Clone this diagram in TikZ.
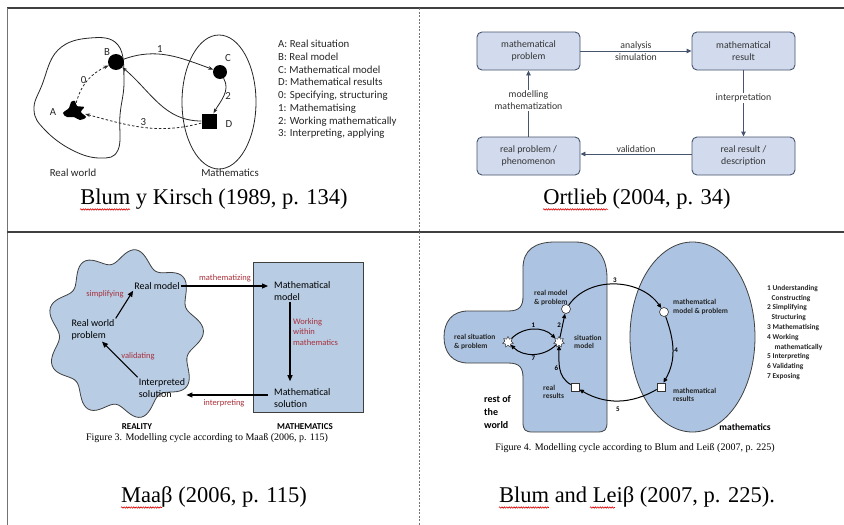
\documentclass[tikz,border=0pt]{standalone}
\usepackage{fontspec}
\setmainfont{Liberation Serif}
\setsansfont{Carlito}
\usetikzlibrary{arrows.meta,decorations.pathmorphing,shapes.geometric}
\definecolor{qfill}{RGB}{184,204,228}
\definecolor{lfill}{RGB}{172,196,226}
\definecolor{ofill}{RGB}{210,219,238}
\definecolor{obord}{RGB}{70,84,110}
\definecolor{mred}{RGB}{168,48,58}
\tikzset{
  bigcap/.style={font=\rmfamily\fontsize{22.5}{26}\selectfont, inner sep=0pt},
  figcap/.style={font=\rmfamily\fontsize{10}{12}\selectfont, inner sep=0pt},
  squig/.style={draw=red!85!black, line width=0.6pt, decorate, decoration={snake, amplitude=0.7pt, segment length=2.4pt}},
  kt/.style={font=\sffamily\fontsize{10.8}{12.7}\selectfont, text=black!85, inner sep=1pt},
  karr/.style={-{Stealth[length=5pt,width=3.6pt]}, line width=0.8pt, black!85},
  kdash/.style={karr, dash pattern=on 2.5pt off 2pt},
  obox/.style={draw=obord, fill=ofill, rounded corners=5pt, line width=0.9pt, minimum width=103pt, minimum height=38pt, align=center, font=\sffamily\fontsize{9.8}{11.8}\selectfont, text=black!80},
  oarr/.style={-{Triangle[length=5pt,width=4.5pt]}, draw=obord, line width=0.9pt},
  ot/.style={font=\sffamily\fontsize{9.8}{11.8}\selectfont, text=black!80, inner sep=1pt, align=center},
  mt/.style={font=\sffamily\fontsize{10}{12.2}\selectfont, align=left, inner sep=1pt},
  mlab/.style={font=\sffamily\fontsize{8.5}{10.5}\selectfont, text=mred, align=left, inner sep=1pt},
  marr/.style={-{Triangle[length=6pt,width=5pt]}, line width=1.1pt},
  mcap/.style={font=\sffamily\bfseries\fontsize{9}{11}\selectfont, inner sep=0pt},
  lt/.style={font=\sffamily\bfseries\fontsize{7.5}{8.6}\selectfont, align=left, inner sep=1pt, text=black!85},
  larr/.style={-{Triangle[length=4.5pt,width=4pt]}, line width=1pt},
  ln/.style={font=\sffamily\bfseries\fontsize{7}{8}\selectfont, inner sep=1pt},
  shapeline/.style={draw=black!75, line width=0.8pt}
}
\begin{document}
\begin{tikzpicture}[x=1pt,y=-1pt]
\useasboundingbox (0,0) rectangle (844,525);
\fill[white] (0,0) rectangle (844,525);
% table lines
\draw[line width=1.2pt, black!75] (7,8) -- (844,8);
\draw[line width=1.5pt, black!55] (7.5,8) -- (7.5,525);
\draw[line width=1.2pt, black!75] (7,232) -- (844,232);
\draw[line width=0.8pt, black!55, dash pattern=on 2pt off 1.5pt] (419.5,8) -- (419.5,525);

% ===== Q1 Blum & Kirsch =====
\draw[line width=0.8pt, black!85] plot[smooth cycle, tension=0.7] coordinates {(58,50) (90,38) (118,45) (124,80) (120,115) (118,150) (100,158) (72,150) (45,130) (34,110) (42,85)};
\draw[line width=0.8pt, black!85] (219,102) ellipse [x radius=37, y radius=67];
\node[circle, fill=black, minimum size=16pt, inner sep=0pt] (B) at (116,62) {};
\node[circle, fill=black, minimum size=14pt, inner sep=0pt] (C) at (220,72) {};
\node[rectangle, fill=black, minimum size=15pt, inner sep=0pt] (D) at (209,121) {};
\node[minimum width=22pt, minimum height=16pt, inner sep=0pt] (A) at (74,111) {};
\fill[black] plot[smooth cycle, tension=0.6] coordinates {(63,113) (69,108) (71,102) (75,101) (77,106) (84,107) (81,112) (86,117) (80,120) (74,117) (67,117)};
\node[kt] (lA) at (53,112) {A};
\node[kt] (lB) at (107,52) {B};
\node[kt] (lC) at (228,58) {C};
\node[kt] (lD) at (229,124) {D};
\draw[karr] (B) to[out=20,in=160] node[kt, above, pos=0.4] (n1) {1} (C);
\draw[karr] (C) to[out=-60,in=60] node[kt, right] (n2) {2} (D);
\draw[karr] (D) to[out=180,in=-40] (B);
\draw[kdash] (A) to[out=75,in=-155] node[kt, left] (n0) {0} (B);
\draw[kdash] (D) to[out=-165,in=-15] node[kt, above] (n3) {3} (A);
\node[kt, anchor=west, align=left] (leg1) at (277,89.5) {A: Real situation\\B: Real model\\C: Mathematical model\\D: Mathematical results\\0: Specifying, structuring\\1: Mathematising\\2: Working mathematically\\3: Interpreting, applying};
\node[kt] (rw) at (73,173) {Real world};
\node[kt] (ma) at (230,173) {Mathematics};
\node[bigcap] (cap1) at (214,199) {Blum y Kirsch (1989, p. 134)};
\draw[squig] (cap1.south west) -- ++(50,0);

% ===== Q2 Ortlieb =====
\node[obox] (op1) at (528.5,51) {mathematical\\problem};
\node[obox] (op2) at (743.5,51) {mathematical\\result};
\node[obox] (op3) at (528.5,156) {real problem /\\phenomenon};
\node[obox] (op4) at (743.5,156) {real result /\\description};
\draw[oarr] (op1) -- node[ot] (oa) {analysis\\simulation} (op2);
\draw[oarr] (op2) -- node[ot, fill=white, pos=0.42] (oi) {interpretation} (op4);
\draw[oarr] (op4.west |- 0,154) -- node[ot, above] (ov) {validation} (op3.east |- 0,154);
\draw[oarr] (op3) -- node[ot, fill=white, pos=0.55] (om) {modelling\\mathematization} (op1);
\node[bigcap] (cap2) at (637,199) {Ortlieb (2004, p. 34)};
\draw[squig] (cap2.south west) -- ++(65,0);

% ===== Q3 Maass =====
\draw[shapeline, fill=qfill] plot[domain=0:360, samples=181, smooth cycle] ({125+72*(1+0.09*cos(9*(\x-82)))*cos(\x)}, {334-78*(1+0.09*cos(9*(\x-82)))*sin(\x)});
\draw[shapeline, fill=qfill] (253,262) rectangle (363,412);
\node[mt] (rm) at (157,286) {Real model};
\node[mt] (rwp) at (93,330) {Real world\\problem};
\node[mt] (isol) at (162,388) {Interpreted\\solution};
\node[mt, anchor=west] (mm) at (273,291) {Mathematical\\model};
\node[mt, anchor=west] (ms) at (273,398) {Mathematical\\solution};
\draw[marr] (rwp.north east) -- (rm.south west);
\draw[marr, shorten >=5pt] (rm.east) -- (rm.east -| mm.west);
\draw[marr] ([xshift=17pt]mm.south west) -- ([xshift=17pt, yshift=6pt]ms.north west);
\draw[marr, shorten <=5pt] ([yshift=3pt]ms.west) -- ([yshift=3pt]ms.west -| isol.east);
\draw[marr] (isol.north west) -- ([xshift=9pt]rwp.south);
\node[mlab] (r1) at (225,278) {mathematizing};
\node[mlab] (r2) at (105,294) {simplifying};
\node[mlab, anchor=west] (r3) at (292,332) {Working\\within\\mathematics};
\node[mlab] (r4) at (138,356) {validating};
\node[mlab] (r5) at (224,403) {interpreting};
\node[mcap] (real) at (137,427) {REALITY};
\node[mcap] (math) at (305,427) {MATHEMATICS};
\node[figcap] (f3) at (207,438) {Figure 3. Modelling cycle according to Maaß (2006, p. 115)};
\node[bigcap] (cap3) at (214,497) {Maaβ (2006, p. 115)};
\draw[squig] (cap3.south west) -- ++(41,0);

% ===== Q4 Blum & Leiss =====
\draw[shapeline, fill=lfill] (523,300) -- (523,268) .. controls (523,250) and (535,242) .. (555,242)
  -- (575,242) .. controls (595,242) and (607,255) .. (607,278)
  -- (607,422) .. controls (607,430) and (605,432) .. (597,432)
  -- (533,432) .. controls (525,432) and (523,430) .. (523,422)
  -- (523,378) .. controls (523,368) and (520,363) .. (508,363)
  -- (468,363) .. controls (452,363) and (444,352) .. (444,337) .. controls (444,322) and (452,311) .. (468,311)
  -- (508,311) .. controls (520,311) and (523,306) .. (523,296) -- cycle;
\draw[shapeline, fill=lfill] (692.5,337) ellipse [x radius=62.5, y radius=95];
\node[circle, draw=black!80, fill=white, minimum size=9pt, inner sep=0pt, line width=0.6pt] (c1) at (566,309) {};
\node[circle, draw=black!80, fill=white, minimum size=9pt, inner sep=0pt, line width=0.6pt] (c2) at (664,312) {};
\node[rectangle, draw=black!80, fill=white, minimum size=8pt, inner sep=0pt, line width=0.6pt] (s1) at (575,387) {};
\node[rectangle, draw=black!80, fill=white, minimum size=8pt, inner sep=0pt, line width=0.6pt] (s2) at (661,387) {};
\node[star, star points=7, star point ratio=1.7, draw=black!80, fill=white, minimum size=11pt, inner sep=0pt, line width=0.5pt] (st1) at (508,342) {};
\node[star, star points=7, star point ratio=1.7, draw=black!80, fill=white, minimum size=11pt, inner sep=0pt, line width=0.5pt] (st2) at (559,342) {};
\draw[larr] (c1) to[out=55,in=125] node[ln, above] (q3) {3} (c2);
\draw[larr] (c2) to[out=-70,in=60] node[ln, right] (q4) {4} (s2);
\draw[larr] (s2) to[out=-150,in=-30] node[ln, below, yshift=-5pt] (q5) {5} (s1);
\draw[larr] (s1) to[out=150,in=-90] node[ln, left] (q6) {6} (st2);
\draw[larr] (st2) -- node[ln, left] (q2) {2} (c1);
\draw[larr] (st1) to[out=45,in=135] node[ln, above] (q1) {1} (st2);
\draw[larr] (st2) to[out=-135,in=-45] node[ln, below] (q7) {7} (st1);
\node[lt, anchor=west] (t1) at (533,298) {real model\\\& problem};
\node[lt, anchor=west] (t2) at (453,342) {real situation\\\& problem};
\node[lt, anchor=west] (t3) at (573,342) {situation\\model};
\node[lt, anchor=west] (t4) at (542,392) {real\\results};
\node[lt, anchor=west] (t5) at (672,307) {mathematical\\model \& problem};
\node[lt, anchor=west] (t6) at (672,395) {mathematical\\results};
\node[font=\sffamily\bfseries\fontsize{10}{13}\selectfont, align=left, anchor=west, inner sep=0pt] (t7) at (484,412) {rest of\\the\\world};
\node[font=\sffamily\bfseries\fontsize{9.5}{11}\selectfont, inner sep=0pt] (t8) at (745,427) {mathematics};
\node[font=\sffamily\bfseries\fontsize{7.4}{9.8}\selectfont, align=left, anchor=west, inner sep=0pt, text=black!85] (t9) at (767,332.5) {1 Understanding\\\hspace*{0.6em}Constructing\\2 Simplifying\\\hspace*{0.6em}Structuring\\3 Mathematising\\4 Working\\\hspace*{1em}mathematically\\5 Interpreting\\6 Validating\\7 Exposing};
\node[figcap] (f4) at (635,448) {Figure 4. Modelling cycle according to Blum and Leiß (2007, p. 225)};
\node[bigcap] (cap4) at (637,497) {Blum and Leiβ (2007, p. 225).};
\draw[squig] (cap4.south west) -- ++(50,0);
\draw[squig] ([xshift=91pt]cap4.south west) -- ++(25,0);
\end{tikzpicture}
\end{document}
